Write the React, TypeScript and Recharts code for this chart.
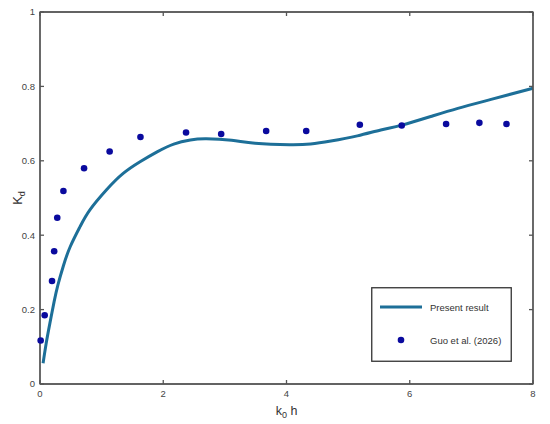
import React from "react";
import { ComposedChart, Line, Scatter, XAxis, YAxis, Legend, Label } from "recharts";

// Present result (solid curve)
const presentX = [0.05, 0.1, 0.16, 0.23, 0.29, 0.38, 0.49, 0.65, 0.81, 1.08, 1.35, 1.63, 1.9, 2.17, 2.44, 2.7, 3.11, 3.49, 4.05, 4.39, 4.72, 5.15, 5.53, 5.87, 6.34, 6.78, 7.32, 8.0];
const presentY = [0.056, 0.109, 0.163, 0.222, 0.266, 0.318, 0.369, 0.423, 0.468, 0.522, 0.566, 0.598, 0.624, 0.645, 0.656, 0.659, 0.655, 0.647, 0.643, 0.645, 0.653, 0.667, 0.683, 0.696, 0.719, 0.741, 0.765, 0.795];

// Guo et al. (2026) (dots)
const guoX = [0.011, 0.076, 0.195, 0.23, 0.28, 0.38, 0.715, 1.13, 1.63, 2.37, 2.94, 3.67, 4.32, 5.19, 5.87, 6.59, 7.13, 7.57];
const guoY = [0.117, 0.185, 0.277, 0.357, 0.447, 0.519, 0.58, 0.625, 0.664, 0.676, 0.672, 0.68, 0.68, 0.697, 0.695, 0.699, 0.702, 0.699];

const xTicks = [0, 2, 4, 6, 8];
const yTicks = [0, 0.2, 0.4, 0.6, 0.8, 1];

const presentData = presentX.map((x, i) => ({ x, y: presentY[i] }));
const guoData = guoX.map((x, i) => ({ x, y: guoY[i] }));

const LINE_COLOR = "#1d6f98";
const DOT_COLOR = "#0a0a9e";
const AXIS_COLOR = "#555";
const FONT = "'Liberation Sans', Arial, sans-serif";

const MARGIN_TOP = 8;
const TOP_AXIS_H = 4;
const PLOT_TOP = MARGIN_TOP + TOP_AXIS_H;

const tickStyle = { fontSize: 9.5, fill: "#444", fontFamily: FONT };
const noLabel = () => <g />;

function LegendBox() {
    return (
        <svg width={141} height={75} style={{ display: "block" }}>
            <rect x={0.75} y={0.75} width={139.5} height={73.5} fill="#fff" stroke="#333" strokeWidth={1.3} />
            <line x1={9} y1={20} x2={51} y2={20} stroke={LINE_COLOR} strokeWidth={3.2} />
            <text x={59} y={23.5} fontSize={9.5} fill="#333" fontFamily={FONT}>Present result</text>
            <circle cx={30} cy={53} r={3.3} fill={DOT_COLOR} />
            <text x={59} y={56.5} fontSize={9.5} fill="#333" fontFamily={FONT}>Guo et al. (2026)</text>
        </svg>
    );
}

// x-axis title plus the box around the plot area, sized from the axis viewBox
function XTitleAndFrame(props: any) {
    const vb = props.viewBox || { x: 40, y: 384, width: 493, height: 40 };
    const cx = vb.x + vb.width / 2;
    return (
        <g>
            <rect
                x={vb.x}
                y={PLOT_TOP}
                width={vb.width}
                height={vb.y - PLOT_TOP}
                fill="none"
                stroke={AXIS_COLOR}
                strokeWidth={1.3}
            />
            <text x={cx} y={vb.y + 31} textAnchor="middle" fontSize={12.5} fill="#333" fontFamily={FONT}>
                k<tspan fontSize={9} dy={3}>0</tspan>
                <tspan dy={-3}> h</tspan>
            </text>
        </g>
    );
}

export default function App() {
    return (
        <div style={{ position: "absolute", left: 0, top: 0, background: "#fff" }}>
            <ComposedChart width={550} height={424} margin={{ top: MARGIN_TOP, right: 13, bottom: 0, left: 0 }}>
                <XAxis
                    xAxisId="b"
                    dataKey="x"
                    type="number"
                    domain={[0, 8]}
                    ticks={xTicks}
                    height={40}
                    stroke={AXIS_COLOR}
                    strokeWidth={1.3}
                    tick={tickStyle}
                    tickSize={-4}
                    tickMargin={10}
                >
                    <Label content={XTitleAndFrame} />
                </XAxis>
                <XAxis
                    xAxisId="t"
                    orientation="top"
                    dataKey="x"
                    type="number"
                    domain={[0, 8]}
                    ticks={xTicks}
                    height={TOP_AXIS_H}
                    stroke={AXIS_COLOR}
                    strokeWidth={1.3}
                    tick={noLabel}
                    tickSize={-4}
                />
                <YAxis
                    yAxisId="l"
                    type="number"
                    domain={[0, 1]}
                    ticks={yTicks}
                    width={40}
                    stroke={AXIS_COLOR}
                    strokeWidth={1.3}
                    tick={tickStyle}
                    tickSize={-4}
                    tickMargin={9}
                >
                    <Label
                        content={() => (
                            <text transform="translate(22,198) rotate(-90)" textAnchor="middle" fontSize={13} fill="#333" fontFamily={FONT}>
                                K<tspan fontSize={9} dy={3}>d</tspan>
                            </text>
                        )}
                    />
                </YAxis>
                <YAxis
                    yAxisId="r"
                    orientation="right"
                    type="number"
                    domain={[0, 1]}
                    ticks={yTicks}
                    width={4}
                    stroke={AXIS_COLOR}
                    strokeWidth={1.3}
                    tick={noLabel}
                    tickSize={-4}
                />
                <Legend
                    layout="vertical"
                    align="center"
                    verticalAlign="middle"
                    wrapperStyle={{ left: 371, top: 287, width: 141, height: 75 }}
                    content={() => <LegendBox />}
                />
                {/* hidden series so the top and right axes get their ticks */}
                <Line
                    xAxisId="t"
                    yAxisId="r"
                    data={presentData}
                    dataKey="y"
                    stroke="none"
                    dot={false}
                    activeDot={false}
                    legendType="none"
                    isAnimationActive={false}
                />
                <Line
                    xAxisId="b"
                    yAxisId="l"
                    data={presentData}
                    dataKey="y"
                    type="natural"
                    stroke={LINE_COLOR}
                    strokeWidth={3}
                    dot={false}
                    activeDot={false}
                    isAnimationActive={false}
                    name="Present result"
                />
                <Scatter
                    xAxisId="b"
                    yAxisId="l"
                    data={guoData}
                    dataKey="y"
                    fill={DOT_COLOR}
                    shape={(p: any) => <circle cx={p.cx} cy={p.cy} r={3.3} fill={DOT_COLOR} />}
                    isAnimationActive={false}
                    name="Guo et al. (2026)"
                />
            </ComposedChart>
        </div>
    );
}
